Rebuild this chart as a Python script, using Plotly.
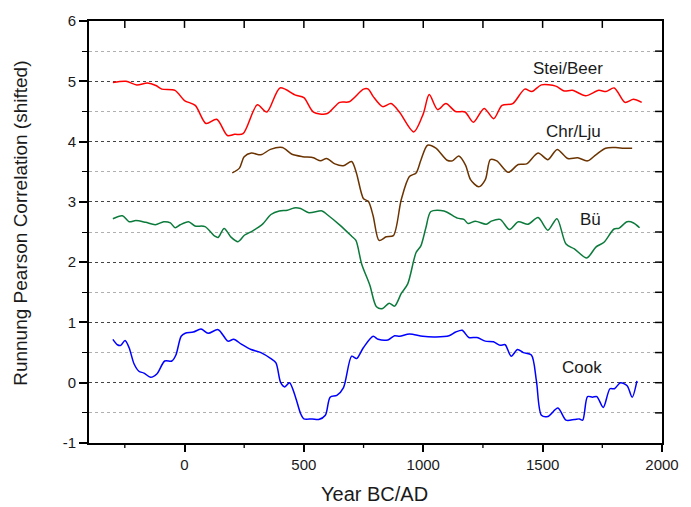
import plotly.graph_objects as go

# ---- data ----
stei_years = [-300, -245, -200, -155, -120, -95, -40, 0, 45, 90, 135, 180, 210, 245, 305, 345, 400, 465, 500,
              540, 595, 650, 690, 750, 770, 790, 830, 865, 900, 960, 1000, 1025, 1060, 1095, 1135, 1175, 1210,
              1255, 1295, 1330, 1375, 1425, 1455, 1495, 1555, 1590, 1625, 1680, 1735, 1765, 1800, 1845, 1880, 1915]
stei_vals = [4.98, 5.00, 4.94, 4.97, 4.93, 4.87, 4.85, 4.68, 4.60, 4.30, 4.37, 4.10, 4.12, 4.13, 4.61, 4.49, 4.89,
             4.77, 4.73, 4.49, 4.46, 4.65, 4.66, 4.87, 4.87, 4.75, 4.58, 4.63, 4.49, 4.16, 4.46, 4.78, 4.53, 4.63,
             4.50, 4.49, 4.32, 4.55, 4.38, 4.60, 4.63, 4.87, 4.83, 4.94, 4.92, 4.84, 4.85, 4.76, 4.85, 4.83, 4.89,
             4.65, 4.70, 4.65]

chr_years = [200, 230, 250, 280, 320, 360, 410, 450, 495, 540, 570, 595, 630, 665, 700, 720, 750, 770, 790, 815,
             845, 875, 908, 942, 970, 990, 1018, 1053, 1100, 1122, 1149, 1177, 1198, 1232, 1260, 1281, 1308, 1356,
             1398, 1433, 1481, 1522, 1561, 1605, 1647, 1688, 1723, 1764, 1806, 1840, 1875]
chr_vals = [3.48, 3.56, 3.75, 3.81, 3.78, 3.87, 3.90, 3.79, 3.75, 3.73, 3.68, 3.72, 3.63, 3.60, 3.67, 3.48, 3.05,
            3.01, 2.77, 2.36, 2.42, 2.44, 3.04, 3.42, 3.48, 3.69, 3.94, 3.89, 3.69, 3.68, 3.76, 3.61, 3.37, 3.25,
            3.37, 3.70, 3.68, 3.49, 3.62, 3.63, 3.81, 3.70, 3.87, 3.72, 3.73, 3.68, 3.78, 3.89, 3.90, 3.89, 3.89]

bu_years = [-300, -260, -232, -204, -163, -122, -87, -59, -39, -18, 17, 44, 86, 127, 141, 166, 196, 224, 252, 286,
            327, 362, 397, 431, 459, 486, 521, 576, 597, 652, 700, 718, 742, 776, 804, 830, 857, 880, 908, 935,
            970, 990, 1011, 1032, 1087, 1143, 1170, 1188, 1218, 1264, 1285, 1322, 1361, 1398, 1439, 1481, 1522,
            1560, 1598, 1633, 1685, 1723, 1757, 1799, 1819, 1854, 1881, 1906]
bu_vals = [2.72, 2.77, 2.67, 2.69, 2.66, 2.62, 2.67, 2.65, 2.57, 2.62, 2.67, 2.60, 2.59, 2.43, 2.41, 2.56, 2.41,
           2.34, 2.45, 2.52, 2.63, 2.79, 2.85, 2.86, 2.90, 2.89, 2.82, 2.85, 2.79, 2.61, 2.43, 2.36, 1.97, 1.62,
           1.26, 1.23, 1.32, 1.27, 1.48, 1.64, 2.16, 2.27, 2.57, 2.84, 2.85, 2.73, 2.71, 2.64, 2.68, 2.63, 2.68,
           2.71, 2.54, 2.67, 2.63, 2.74, 2.53, 2.72, 2.30, 2.22, 2.07, 2.25, 2.33, 2.55, 2.56, 2.67, 2.65, 2.57]

cook_years = [-300, -281, -267, -249, -232, -211, -191, -170, -142, -115, -83, -53, -36, -14, 3, 37, 69, 99, 141,
              182, 206, 238, 279, 320, 362, 383, 403, 420, 440, 465, 486, 500, 535, 562, 590, 610, 638, 666, 700,
              721, 749, 790, 811, 852, 880, 901, 942, 998, 1053, 1108, 1136, 1163, 1191, 1225, 1260, 1294, 1322,
              1343, 1368, 1395, 1419, 1453, 1474, 1495, 1522, 1564, 1598, 1633, 1654, 1668, 1688, 1709, 1727,
              1754, 1782, 1801, 1826, 1854, 1875, 1895]
cook_vals = [0.72, 0.63, 0.62, 0.70, 0.58, 0.31, 0.19, 0.16, 0.09, 0.15, 0.36, 0.36, 0.46, 0.77, 0.82, 0.84, 0.89,
             0.82, 0.88, 0.69, 0.72, 0.64, 0.55, 0.50, 0.40, 0.33, 0.00, -0.07, 0.00, -0.24, -0.51, -0.60, -0.60,
             -0.61, -0.54, -0.24, -0.21, -0.08, 0.44, 0.40, 0.58, 0.77, 0.72, 0.71, 0.78, 0.77, 0.81, 0.77, 0.76,
             0.78, 0.84, 0.87, 0.75, 0.75, 0.69, 0.68, 0.62, 0.63, 0.44, 0.55, 0.50, 0.46, 0.03, -0.54, -0.56,
             -0.42, -0.62, -0.61, -0.60, -0.62, -0.23, -0.24, -0.23, -0.41, -0.10, -0.10, 0.00, -0.05, -0.24, 0.03]

series_names = ["Stei/Beer", "Chr/Lju", "Bü", "Cook"]
series_colors = ["#ff0000", "#6b3300", "#0b7a3b", "#0000ff"]
label_pos = [(1605, 5.21), (1630, 4.16), (1700, 2.70), (1665, 0.26)]  # year, value of series label

x_range = [-400, 2000]
y_range = [-1, 6]
x_tick_vals = [0, 500, 1000, 1500, 2000]
x_tick_text = ["0", "500", "1000", "1500", "2000"]
x_minor_vals = [-250, 250, 750, 1250, 1750]
y_tick_vals = [-1, 0, 1, 2, 3, 4, 5, 6]
y_tick_text = ["-1", "0", "1", "2", "3", "4", "5", "6"]
top_tick_vals = [-250, 0, 250, 500, 750, 1000, 1250, 1500, 1750]           # inside ticks on top frame
right_tick_vals = [-0.5, 0, 0.5, 1, 1.5, 2, 2.5, 3, 3.5, 4, 4.5, 5, 5.5]   # inside ticks on right frame

FONT = "Liberation Sans, Arial, sans-serif"
TXT = "#1a1a1a"

W, H = 691, 507
ML, MR, MT, MB = 89, 22, 16, 64
plot_w, plot_h = W - ML - MR, H - MT - MB

fig = go.Figure()
data = [(stei_years, stei_vals), (chr_years, chr_vals), (bu_years, bu_vals), (cook_years, cook_vals)]
for (xs, ys), name, col in zip(data, series_names, series_colors):
    fig.add_trace(go.Scatter(x=xs, y=ys, mode="lines", name=name,
                             line=dict(color=col, width=1.5, shape="spline", smoothing=0.8),
                             showlegend=False, hoverinfo="skip"))

# tick marks as shapes in paper coordinates (positions derived from the axis range)
def xp(v):
    return (v - x_range[0]) / (x_range[1] - x_range[0])

def yp(v):
    return (v - y_range[0]) / (y_range[1] - y_range[0])

shapes = []
for t in top_tick_vals:
    shapes.append(dict(type="line", xref="paper", yref="paper", x0=xp(t), x1=xp(t), y0=1, y1=1 - 7 / plot_h,
                       line=dict(color="black", width=1.5), layer="above"))
for t in right_tick_vals:
    shapes.append(dict(type="line", xref="paper", yref="paper", x0=1, x1=1 - 7 / plot_w, y0=yp(t), y1=yp(t),
                       line=dict(color="black", width=1.5), layer="above"))
for t in x_minor_vals:
    shapes.append(dict(type="line", xref="paper", yref="paper", x0=xp(t), x1=xp(t), y0=0, y1=-5 / plot_h,
                       line=dict(color="black", width=1.3), layer="above"))
fig.update_layout(shapes=shapes)

for name, (lx, ly) in zip(series_names, label_pos):
    fig.add_annotation(x=lx, y=ly, text=name, showarrow=False,
                       font=dict(family=FONT, size=17, color=TXT), xanchor="center", yanchor="middle")

fig.add_annotation(x=0.499, y=-0.12, xref="paper", yref="paper", text="Year BC/AD", showarrow=False,
                   font=dict(family=FONT, size=20, color=TXT), xanchor="center", yanchor="middle")
fig.add_annotation(x=-0.12, y=0.52, xref="paper", yref="paper", text="Runnung Pearson Correlation (shifted)",
                   showarrow=False, textangle=-90,
                   font=dict(family=FONT, size=19, color=TXT), xanchor="center", yanchor="middle")

fig.update_layout(
    width=W, height=H,
    margin=dict(l=ML, r=MR, t=MT, b=MB),
    paper_bgcolor="white", plot_bgcolor="white",
    font=dict(family=FONT, size=15, color=TXT),
    xaxis=dict(range=x_range, tickvals=x_tick_vals, ticktext=x_tick_text, ticks="outside", ticklen=7,
               tickwidth=1.5, tickcolor="black", showline=True, linecolor="black", linewidth=1.6, mirror=True,
               showgrid=False, zeroline=False),
    yaxis=dict(range=y_range, tickvals=y_tick_vals, ticktext=y_tick_text, ticks="outside", ticklen=8,
               tickwidth=1.5, tickcolor="black", showline=True, linecolor="black", linewidth=1.6, mirror=True,
               showgrid=True, gridcolor="#444444", gridwidth=1, griddash="dot", zeroline=False,
               minor=dict(dtick=0.5, tick0=0, ticks="outside", ticklen=5, tickwidth=1.2, tickcolor="black",
                          showgrid=True, gridcolor="#b0b0b0", gridwidth=1, griddash="dot")),
)

fig.write_html("out.html")
